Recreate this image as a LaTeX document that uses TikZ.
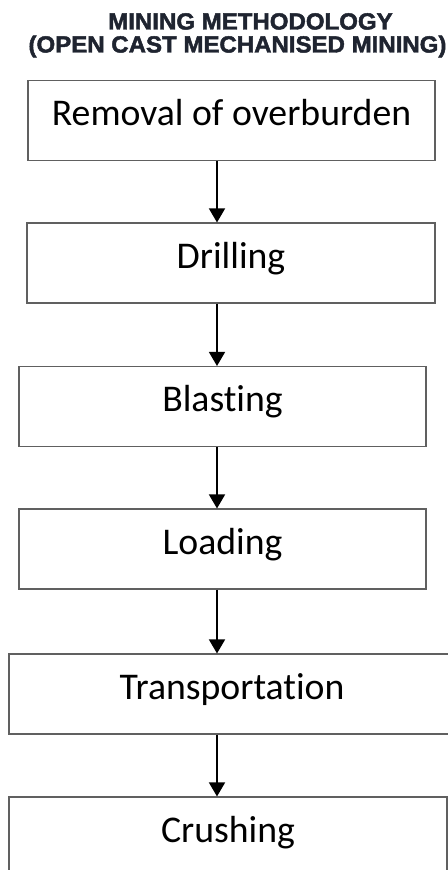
\documentclass[tikz,border=0pt]{standalone}
\usepackage{fontspec}
\setmainfont{Carlito}[Ligatures={NoCommon,NoRare}]
\newfontfamily\headfont[BoldFeatures={FakeBold=2}]{Liberation Sans}
\usetikzlibrary{arrows.meta}
\definecolor{titleink}{HTML}{1F2430}
\definecolor{boxline}{HTML}{606060}

\begin{document}
\begin{tikzpicture}[x=0.75pt, y=-0.75pt]

    % let's define some key values
    \def\px{0.75pt}
    \def\xarrow{217}
    \def\boxh{80}
    \coordinate (arrowx) at (\xarrow,0);

    % Styles
    \tikzstyle{heading}=[text=titleink, anchor=base, inner sep=0pt,
        font=\headfont\bfseries\fontsize{17.5}{20}\selectfont]
    \tikzstyle{stepbox}=[draw=boxline, line width=0.8pt, inner sep=0pt,
        minimum height=\boxh*\px, text height=20pt, text depth=12.5pt,
        font=\fontsize{28.3}{31}\selectfont]
    \tikzstyle{flow}=[-{Triangle[width=12pt,length=10.5pt]}, line width=1.1pt]

    \useasboundingbox (0,0) rectangle (448,870);
    \clip (0,0) rectangle (448,870);

    % title
    \node[heading] (title) at (250.5,29.5) {\scalebox{1.03}[1]{MINING METHODOLOGY}};
    \node[heading] (subtitle) at (237.5,52.5)
        {\scalebox{1.03}[1]{(OPEN CAST MECHANISED MINING)}};

    % steps of the method
    \node[stepbox, minimum width=407*\px] (removal) at (231.5,120.5)
        {Removal of overburden};
    \node[stepbox, minimum width=408*\px] (drilling) at (231,263) {Drilling};
    \node[stepbox, minimum width=407*\px] (blasting) at (222.5,406.5) {Blasting};
    \node[stepbox, minimum width=407*\px] (loading) at (222.5,549) {Loading};
    % last two run off the page
    \node[stepbox, minimum width=446*\px] (transport) at (232,694) {Transportation};
    \node[stepbox, minimum width=438*\px] (crushing) at (228,837) {Crushing};

    % flow between steps
    \draw[flow] (removal.south -| arrowx) -- (drilling.north -| arrowx);
    \draw[flow] (drilling.south -| arrowx) -- (blasting.north -| arrowx);
    \draw[flow] (blasting.south -| arrowx) -- (loading.north -| arrowx);
    \draw[flow] (loading.south -| arrowx) -- (transport.north -| arrowx);
    \draw[flow] (transport.south -| arrowx) -- (crushing.north -| arrowx);

\end{tikzpicture}
\end{document}
